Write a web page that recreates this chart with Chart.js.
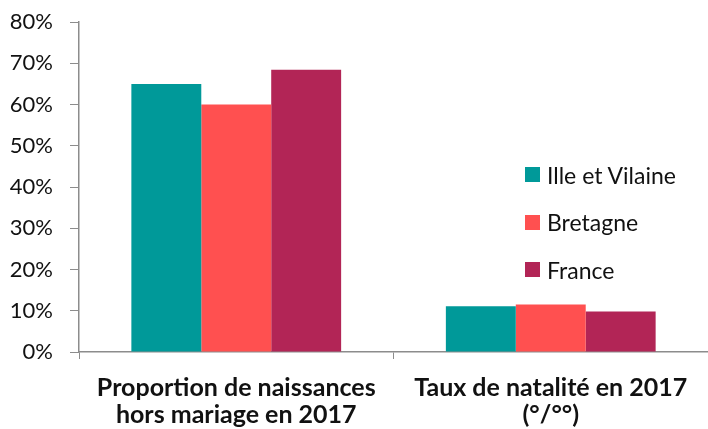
<!DOCTYPE html>
<html>
<head>
<meta charset="utf-8">
<script src="https://cdn.jsdelivr.net/npm/chart.js@4"></script>
<style>
  body { margin: 0; background: #fff; }
  #wrap { position: relative; width: 708px; height: 429px; }
  #legend { position: absolute; left: 525px; top: 151px; font-family: Lato, sans-serif; font-size: 23px; color: #111; }
  #legend div { height: 47.5px; display: flex; align-items: center; }
  #legend span.box { width: 15px; height: 15px; margin-right: 7px; display: inline-block; }
</style>
</head>
<body>
<div id="wrap">
  <canvas id="chart" width="708" height="429"></canvas>
  <div id="legend"></div>
</div>
<script>
/* ================= DATA ================= */
const categories = [
    ["Proportion de naissances", "hors mariage en 2017"],
    ["Taux de natalité en 2017", "(°/°°)"]
];
const seriesNames = ["Ille et Vilaine", "Bretagne", "France"];
const illeEtVilaine = [65.0, 11.1];
const bretagne = [60.0, 11.5];
const france = [68.4, 9.8];
const colors = ["#009999", "#FF5050", "#B22556"];
const yTicks = [0, 10, 20, 30, 40, 50, 60, 70, 80];

const axisColor = "#8c8c8c";
const values = [illeEtVilaine, bretagne, france];

/* ================= CHART ================= */
const ctx = document.getElementById("chart").getContext("2d");
const chart = new Chart(ctx, {
    type: "bar",
    data: {
        labels: categories,
        datasets: seriesNames.map((name, i) => ({
            label: name,
            data: values[i],
            backgroundColor: colors[i],
            categoryPercentage: 0.667,
            barPercentage: 1.0
        }))
    },
    options: {
        responsive: false,
        animation: false,
        layout: { padding: { top: 22, right: 0, left: 0, bottom: 0 } },
        plugins: { legend: { display: false }, tooltip: { enabled: false } },
        scales: {
            x: {
                grid: { offset: true, drawOnChartArea: false, color: axisColor, tickLength: 7 },
                border: { color: axisColor, width: 1.5 },
                ticks: {
                    color: "#111",
                    font: { family: "Lato", size: 25, weight: "bold", lineHeight: 1.1 },
                    padding: 15,
                    maxRotation: 0,
                    autoSkip: false
                },
                afterFit: s => { s.height = 77; s.paddingLeft = 0; s.paddingRight = 0; }
            },
            y: {
                min: 0,
                max: 80,
                afterBuildTicks: s => { s.ticks = yTicks.map(v => ({ value: v })); },
                grid: { drawOnChartArea: false, color: axisColor, tickLength: 9 },
                border: { color: axisColor, width: 1.5 },
                ticks: {
                    color: "#111",
                    font: { family: "Lato", size: 22 },
                    padding: 17,
                    callback: v => v + "%"
                },
                afterFit: s => { s.width = 79; s.paddingTop = 0; s.paddingBottom = 0; }
            }
        }
    }
});

/* ================= LEGEND ================= */
const legend = document.getElementById("legend");
seriesNames.forEach((name, i) => {
    const row = document.createElement("div");
    row.innerHTML = `<span class="box" style="background:${colors[i]}"></span>${name}`;
    legend.appendChild(row);
});
</script>
</body>
</html>
